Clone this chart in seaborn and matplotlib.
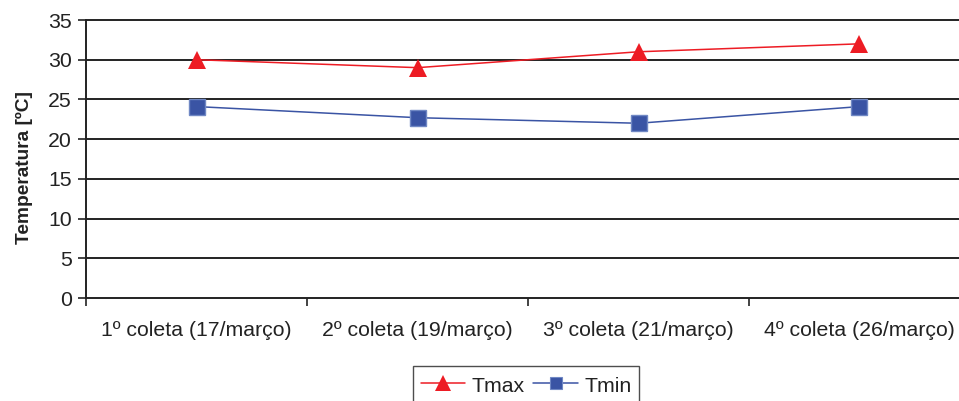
import matplotlib
matplotlib.use("Agg")
import matplotlib.pyplot as plt
from matplotlib.ticker import FixedLocator
import seaborn as sns
import pandas as pd

coletas = ["1º coleta (17/março)", "2º coleta (19/março)",
           "3º coleta (21/março)", "4º coleta (26/março)"]
tmax = [30.0, 29.0, 31.0, 32.0]
tmin = [24.1, 22.7, 22.0, 24.1]
y_ticks = [0, 5, 10, 15, 20, 25, 30, 35]

df = pd.DataFrame({
    "coleta": coletas * 2,
    "temp": tmax + tmin,
    "serie": ["Tmax"] * len(tmax) + ["Tmin"] * len(tmin),
})

sns.set_theme(style="white")
plt.rcParams["font.family"] = ["Liberation Sans", "DejaVu Sans"]

fig = plt.figure(figsize=(9.59, 4.01), dpi=100)
ax = fig.add_axes([86 / 959, 1 - 298 / 401, 884 / 959, 278 / 401])

palette = {"Tmax": "#ED1C24", "Tmin": "#3A54A4"}
sns.lineplot(data=df, x="coleta", y="temp", hue="serie", style="serie",
             markers={"Tmax": "^", "Tmin": "s"}, dashes=False,
             palette=palette, linewidth=1.1, markersize=12,
             ax=ax, legend=False, sort=False)

# lighter rim on the square markers, none on triangles
for line in ax.get_lines():
    if line.get_marker() == "s":
        line.set_markeredgecolor("#7088C4")
        line.set_markeredgewidth(1.0)
        line.set_markersize(11.5)
    else:
        line.set_markeredgewidth(0)
        line.set_markersize(13)
    line.set_zorder(5)

ax.set_xlim(-0.5, 3.5)
ax.set_ylim(0, 35)
ax.set_yticks(y_ticks)
ax.grid(axis="y", color="#222222", linewidth=1.4)
for gl in ax.get_ygridlines():
    gl.set_clip_on(False)
ax.set_axisbelow(True)
for side in ["top", "right", "bottom"]:
    ax.spines[side].set_visible(False)
ax.spines["left"].set_color("#222222")
ax.spines["left"].set_linewidth(1.4)

ax.xaxis.set_minor_locator(FixedLocator([-0.5, 0.5, 1.5, 2.5, 3.5]))
ax.tick_params(axis="x", which="major", length=0, pad=16.5, labelsize=15.3,
               labelcolor="#222222")
ax.tick_params(axis="x", which="minor", length=6, width=1.2, color="#222222",
               direction="out", bottom=True)
ax.tick_params(axis="y", length=6, width=1.2, color="#222222", direction="out",
               left=True, pad=4, labelsize=15.3, labelcolor="#222222")
ax.set_xlabel("")
ax.set_ylabel("Temperatura [ºC]", fontsize=13.8, fontweight="bold",
              color="#222222")
ax.yaxis.set_label_coords(-0.0600, 0.468)

handles = [
    plt.Line2D([], [], color="#ED1C24", linewidth=1.1, marker="^",
               markersize=11, markeredgewidth=0),
    plt.Line2D([], [], color="#3A54A4", linewidth=1.1, marker="s",
               markersize=9, markeredgecolor="#7088C4", markeredgewidth=0.8),
]
leg = fig.legend(handles, ["Tmax", "Tmin"], loc="upper center",
                 bbox_to_anchor=(526 / 959, 1 - 366 / 401), ncol=2,
                 frameon=True, fancybox=False, fontsize=15.3,
                 handlelength=2.1, handleheight=1.3, handletextpad=0.3,
                 columnspacing=0.4, borderpad=0.36, borderaxespad=0)
leg.get_frame().set_edgecolor("#222222")
leg.get_frame().set_linewidth(1.0)
for t in leg.get_texts():
    t.set_color("#222222")

fig.savefig("out.png", dpi=100)
